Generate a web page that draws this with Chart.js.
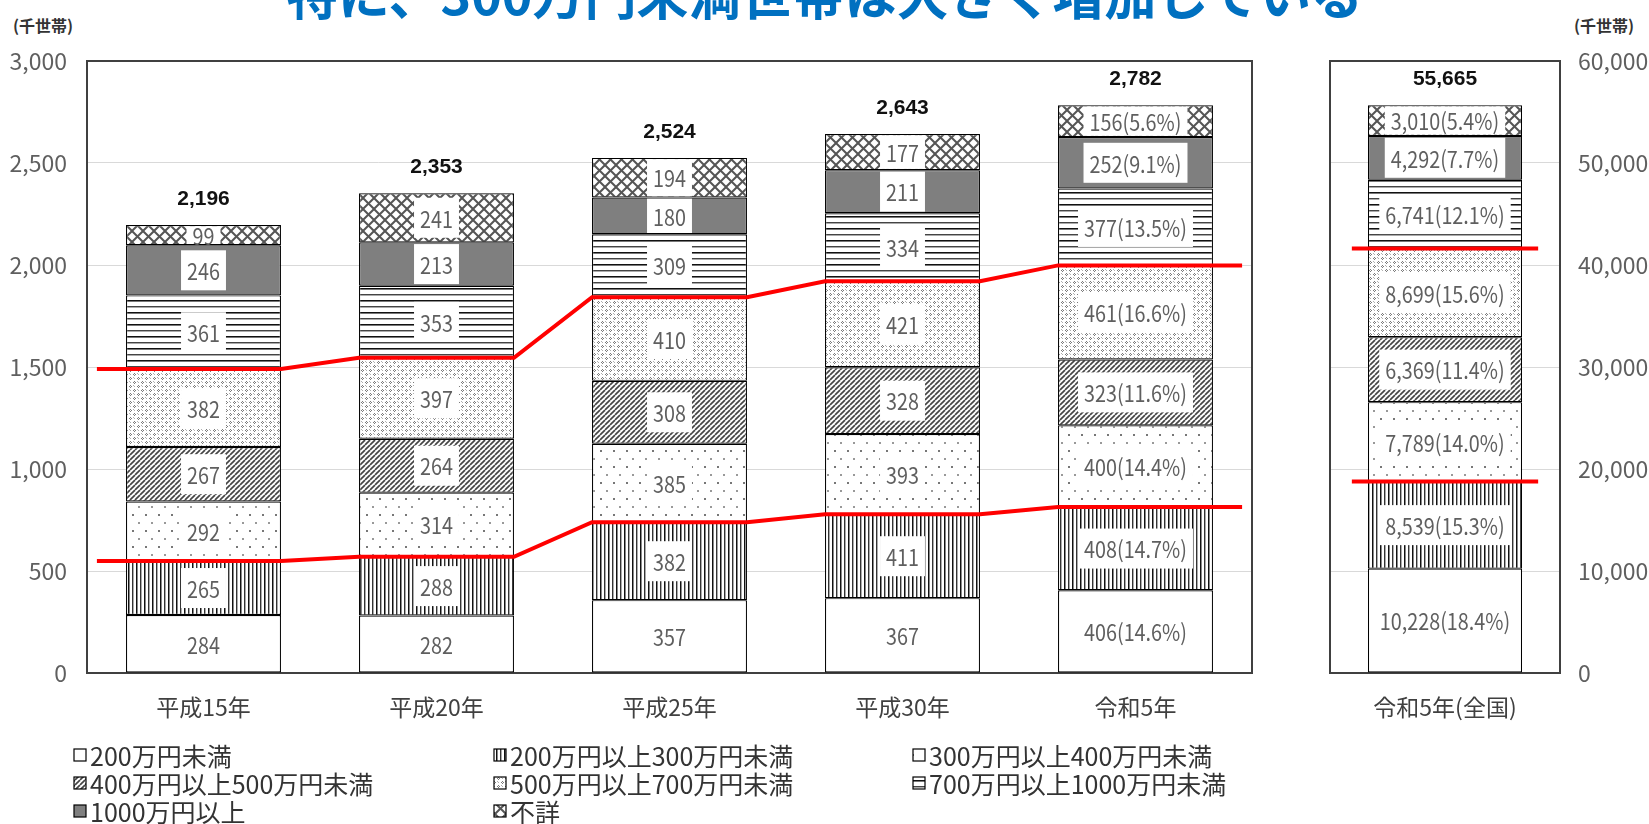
<!DOCTYPE html>
<html lang="ja">
<head>
<meta charset="utf-8">
<script src="https://cdn.jsdelivr.net/npm/chart.js@4.4.1/dist/chart.umd.min.js"></script>
<style>
  html, body { margin: 0; padding: 0; background: #fff; }
  #wrap { position: relative; width: 1649px; height: 824px; overflow: hidden; background: #fff; }
  #title { position: absolute; left: 0; width: 1649px; top: -33px; text-align: center;
           font: bold 52px "Noto Sans CJK JP", sans-serif; color: #0070C0; line-height: 52px; white-space: nowrap; }
  .unit { position: absolute; top: 13px; font: bold 16px "Noto Sans CJK JP", sans-serif; color: #333; }
  #cvL { position: absolute; left: 0; top: 0; }
  #cvR { position: absolute; left: 1300px; top: 0; }
</style>
</head>
<body>
<div id="wrap">
  <div id="title">特に、300万円未満世帯は大きく増加している</div>
  <div class="unit" style="left:13px">(千世帯)</div>
  <div class="unit" style="left:1574px">(千世帯)</div>
  <canvas id="cvL" width="1270" height="824"></canvas>
  <canvas id="cvR" width="349" height="824"></canvas>
</div>
<script>
// ---- data (千世帯) ----
const years = ['平成15年', '平成20年', '平成25年', '平成30年', '令和5年'];
const nationalCategory = ['令和5年(全国)'];
const seriesNames = ['200万円未満', '200万円以上300万円未満', '300万円以上400万円未満', '400万円以上500万円未満',
                     '500万円以上700万円未満', '700万円以上1000万円未満', '1000万円以上', '不詳'];

const under200      = [284, 282, 357, 367, 406];
const from200to300  = [265, 288, 382, 411, 408];
const from300to400  = [292, 314, 385, 393, 400];
const from400to500  = [267, 264, 308, 328, 323];
const from500to700  = [382, 397, 410, 421, 461];
const from700to1000 = [361, 353, 309, 334, 377];
const over1000      = [246, 213, 180, 211, 252];
const notStated     = [99, 241, 194, 177, 156];
const totals        = [2196, 2353, 2524, 2643, 2782];
// 令和5年の構成比 (%)
const share2023     = [14.6, 14.7, 14.4, 11.6, 16.6, 13.5, 9.1, 5.6];

// 全国 (令和5年)
const national      = [10228, 8539, 7789, 6369, 8699, 6741, 4292, 3010];
const nationalShare = [18.4, 15.3, 14.0, 11.4, 15.6, 12.1, 7.7, 5.4];
const nationalTotal = [55665];

const leftMax = 3000, leftStep = 500;
const rightMax = 60000, rightStep = 10000;

// ---- styling ----
const NUM_FONT = '"Noto Sans CJK JP", sans-serif';
const SEG_FONT = '23px ' + NUM_FONT;
const TOTAL_FONT = 'bold 21px "Liberation Sans", "Noto Sans CJK JP", sans-serif';
const LABEL_GRAY = '#5f5f5f';
const BAR_PCT_L = 0.665, BAR_PCT_R = 0.67;

function tile(w, h, draw) {
  const c = document.createElement('canvas');
  c.width = w; c.height = h;
  const g = c.getContext('2d');
  g.fillStyle = '#fff'; g.fillRect(0, 0, w, h);
  draw(g, w, h);
  return g.createPattern(c, 'repeat');
}
function px(g, color, pts) { g.fillStyle = color; pts.forEach(p => g.fillRect(p[0], p[1], p[2] || 1, p[3] || 1)); }

const fills = [
  '#ffffff',
  // vertical stripes
  tile(8, 1, g => { px(g, '#111', [[0, 0, 1.3, 1]]); px(g, '#888', [[1, 0]]); px(g, '#333', [[4, 0]]); px(g, '#aaa', [[5, 0]]); }),
  // sparse dots
  tile(13, 16, g => { px(g, '#777', [[2, 2, 2, 2]]); px(g, '#999', [[8, 10, 2, 2]]); }),
  // dense upward diagonal
  tile(5, 5, g => {
    g.strokeStyle = '#454545'; g.lineWidth = 1.7;
    for (let o = -5; o <= 5; o += 5) { g.beginPath(); g.moveTo(o, 5); g.lineTo(o + 5, 0); g.stroke(); }
  }),
  // fine dotted rings
  tile(8, 8, g => {
    px(g, '#7a7a7a', [[2, 1], [1, 2], [3, 2], [2, 3], [6, 5], [5, 6], [7, 6], [6, 7]]);
    px(g, '#b0b0b0', [[5, 1], [1, 5], [6, 2], [2, 6]]);
  }),
  // horizontal stripes
  tile(1, 12, g => { px(g, '#111', [[0, 0, 1, 1.4]]); px(g, '#777', [[0, 1]]); px(g, '#444', [[0, 6]]); px(g, '#aaa', [[0, 7]]); }),
  '#7f7f7f',
  // diamond cross-hatch
  tile(11, 11, g => {
    g.strokeStyle = '#555'; g.lineWidth = 2;
    for (let o = -11; o <= 11; o += 11) {
      g.beginPath(); g.moveTo(o, 0); g.lineTo(o + 11, 11); g.stroke();
      g.beginPath(); g.moveTo(o + 11, 0); g.lineTo(o, 11); g.stroke();
    }
  })
];

const fmt = v => v.toLocaleString('en-US');

// ---- plugins ----
function framePlugin() {
  return {
    id: 'frame',
    beforeDatasetsDraw(chart) {
      const a = chart.chartArea, ctx = chart.ctx;
      ctx.save();
      ctx.strokeStyle = '#404040'; ctx.lineWidth = 2;
      ctx.strokeRect(a.left, a.top, a.right - a.left, a.bottom - a.top);
      ctx.restore();
    }
  };
}

function segLabelPlugin(textFor) {
  return {
    id: 'segLabels',
    afterDatasetDraw(chart, args) {
      const meta = args.meta;
      if (meta.type !== 'bar') return;
      const ctx = chart.ctx;
      const bw = chart.data.datasets[args.index].borderWidth;
      const squeeze = 0.86;
      ctx.save();
      ctx.font = SEG_FONT;
      ctx.textAlign = 'center'; ctx.textBaseline = 'middle';
      meta.data.forEach((bar, i) => {
        const p = bar.getProps(['x', 'y', 'base'], true);
        const top = Math.min(p.y, p.base) + bw, bot = Math.max(p.y, p.base) - bw;
        const text = textFor(args.index, i);
        const w = ctx.measureText(text).width * squeeze + 12;
        const h = Math.min(40, bot - top);
        const cy = (top + bot) / 2;
        ctx.fillStyle = '#fff';
        ctx.fillRect(p.x - w / 2, cy - h / 2, w, h);
        ctx.save();
        ctx.translate(p.x, cy + 1);
        ctx.scale(squeeze, 1);
        ctx.fillStyle = LABEL_GRAY;
        ctx.fillText(text, 0, 0);
        ctx.restore();
      });
      ctx.restore();
    }
  };
}

function totalPlugin(values) {
  return {
    id: 'totals',
    afterDatasetsDraw(chart) {
      const meta = chart.getDatasetMeta(seriesNames.length - 1);
      const ctx = chart.ctx;
      ctx.save();
      ctx.font = TOTAL_FONT; ctx.fillStyle = '#111';
      ctx.textAlign = 'center'; ctx.textBaseline = 'middle';
      meta.data.forEach((bar, i) => ctx.fillText(fmt(values[i]), bar.x, bar.y - 26));
      ctx.restore();
    }
  };
}

const legendPlugin = {
  id: 'gridLegend',
  afterDraw(chart) {
    const ctx = chart.ctx;
    const cols = [74, 494, 913], rows = [755, 783, 811];
    ctx.save();
    ctx.font = '25px ' + NUM_FONT;
    ctx.textBaseline = 'middle'; ctx.textAlign = 'left';
    seriesNames.forEach((name, k) => {
      const x = cols[k % 3], y = rows[Math.floor(k / 3)];
      ctx.fillStyle = fills[k];
      ctx.fillRect(x, y - 6, 12, 12);
      ctx.strokeStyle = '#000'; ctx.lineWidth = 1.2;
      ctx.strokeRect(x, y - 6, 12, 12);
      ctx.fillStyle = '#333';
      ctx.fillText(name, x + 16, y + 1);
    });
    ctx.restore();
  }
};

// ---- helpers ----
function barSets(columns, pct) {
  return seriesNames.map((name, k) => ({
    type: 'bar', label: name, data: columns[k],
    backgroundColor: fills[k], borderColor: '#000', borderWidth: 1.2, borderSkipped: false,
    categoryPercentage: 1, barPercentage: pct, grouped: false
  }));
}
function stepLine(values, half, ext) {
  const pts = [];
  values.forEach((v, i) => {
    pts.push({ x: i - half - (i === 0 ? ext : 0), y: v });
    pts.push({ x: i + half + (i === values.length - 1 ? ext : 0), y: v });
  });
  return { type: 'line', data: pts, xAxisID: 'xl', yAxisID: 'yl', order: -1,
           borderColor: '#ff0000', borderWidth: 4, pointRadius: 0, fill: false, tension: 0 };
}
function sumOf(cols, n, i) { let s = 0; for (let k = 0; k < n; k++) s += cols[k][i]; return s; }

function buildScales(max, step, yPos, yWidth, yPad, idxMax) {
  return {
    x: {
      type: 'category', stacked: true, offset: true,
      grid: { display: false, drawTicks: false }, border: { display: false },
      ticks: { color: '#404040', font: { family: NUM_FONT, size: 23 }, padding: 20, maxRotation: 0 },
      afterFit: s => { s.height = 151; }
    },
    xl: { type: 'linear', display: false, offset: false, grid: { offset: false }, min: -0.5, max: idxMax + 0.5 },
    y: {
      type: 'linear', position: yPos, stacked: true, min: 0, max: max,
      grid: { color: '#d9d9d9', lineWidth: 1, drawTicks: false }, border: { display: false },
      ticks: { stepSize: step, color: LABEL_GRAY, padding: yPad, font: { family: NUM_FONT, size: 23 },
               callback: v => fmt(v) },
      afterFit: s => { s.width = yWidth; }
    },
    yl: { type: 'linear', display: false, position: yPos, min: 0, max: max }
  };
}

// ---- left panel: 5 survey years ----
const leftCols = [under200, from200to300, from300to400, from400to500, from500to700, from700to1000, over1000, notStated];
const lowerLine = years.map((_, i) => sumOf(leftCols, 2, i));
const upperLine = years.map((_, i) => sumOf(leftCols, 5, i));

new Chart(document.getElementById('cvL'), {
  type: 'bar',
  data: {
    labels: years,
    datasets: [
      ...barSets(leftCols, BAR_PCT_L),
      stepLine(lowerLine, BAR_PCT_L / 2, 0.125),
      stepLine(upperLine, BAR_PCT_L / 2, 0.125)
    ]
  },
  options: {
    responsive: false, devicePixelRatio: 1, animation: false, events: [],
    layout: { padding: { left: 0, top: 61, right: 18, bottom: 0 } },
    plugins: { legend: { display: false }, tooltip: { enabled: false } },
    scales: buildScales(leftMax, leftStep, 'left', 87, 20, years.length - 1)
  },
  plugins: [framePlugin(),
            segLabelPlugin((k, i) => i === years.length - 1
              ? leftCols[k][i] + '(' + share2023[k].toFixed(1) + '%)'
              : String(leftCols[k][i])),
            totalPlugin(totals), legendPlugin]
});

// ---- right panel: national total ----
const rightCols = national.map(v => [v]);
new Chart(document.getElementById('cvR'), {
  type: 'bar',
  data: {
    labels: nationalCategory,
    datasets: [
      ...barSets(rightCols, BAR_PCT_R),
      stepLine([sumOf(rightCols, 2, 0)], BAR_PCT_R / 2, 0.07),
      stepLine([sumOf(rightCols, 5, 0)], BAR_PCT_R / 2, 0.07)
    ]
  },
  options: {
    responsive: false, devicePixelRatio: 1, animation: false, events: [],
    layout: { padding: { left: 30, top: 61, right: 0, bottom: 0 } },
    plugins: { legend: { display: false }, tooltip: { enabled: false } },
    scales: buildScales(rightMax, rightStep, 'right', 89, 18, 0)
  },
  plugins: [framePlugin(),
            segLabelPlugin((k) => fmt(national[k]) + '(' + nationalShare[k].toFixed(1) + '%)'),
            totalPlugin(nationalTotal)]
});
</script>
</body>
</html>
